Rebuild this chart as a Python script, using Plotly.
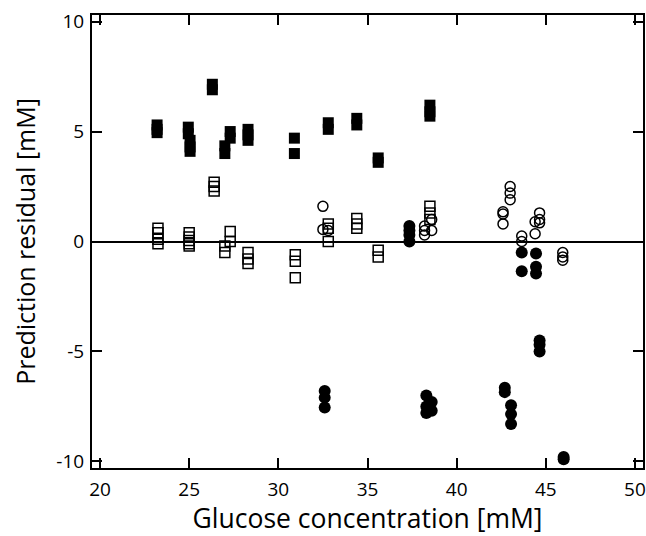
import plotly.graph_objects as go

# Filled squares
fsq_x = [23.2, 23.2, 23.2, 24.95, 24.95, 25.05, 25.05, 25.05, 26.3, 26.3, 27.0, 27.0,
         27.3, 27.3, 28.3, 28.3, 28.3, 30.9, 30.9, 32.8, 32.8, 34.4, 34.4, 35.6, 35.6,
         38.5, 38.5, 38.5]
fsq_y = [5.3, 5.1, 4.95, 5.2, 4.9, 4.6, 4.3, 4.1, 7.15, 6.9, 4.35, 4.0,
         5.0, 4.7, 5.1, 4.85, 4.6, 4.7, 4.0, 5.4, 5.1, 5.6, 5.3, 3.8, 3.6,
         6.2, 5.9, 5.7]

# Open squares
osq_x = [23.25, 23.25, 23.25, 23.25, 25.0, 25.0, 25.0, 25.0, 25.0, 26.4, 26.4, 26.4,
         27.0, 27.0, 27.3, 27.3, 28.3, 28.3, 28.3, 30.95, 30.95, 30.95, 32.8, 32.8, 32.8,
         34.4, 34.4, 34.4, 35.6, 35.6, 38.5, 38.5, 38.5]
osq_y = [0.6, 0.4, 0.1, -0.1, 0.4, 0.2, 0.05, -0.1, -0.2, 2.7, 2.5, 2.3,
         -0.2, -0.5, 0.45, 0.0, -0.5, -0.8, -1.0, -0.6, -0.9, -1.65, 0.8, 0.6, 0.0,
         1.05, 0.8, 0.6, -0.4, -0.7, 1.6, 1.3, 1.0]

# Open circles
oci_x = [32.5, 32.5, 32.8, 38.2, 38.2, 38.2, 38.6, 38.6, 42.6, 42.6, 42.6, 43.0, 43.0, 43.0,
         43.65, 43.65, 44.4, 44.4, 44.65, 44.65, 44.65, 45.95, 45.95, 45.95]
oci_y = [1.6, 0.55, 0.5, 0.7, 0.5, 0.3, 1.0, 0.5, 1.35, 1.25, 0.8, 2.5, 2.2, 1.9,
         0.25, 0.0, 0.9, 0.35, 1.3, 1.0, 0.85, -0.5, -0.7, -0.85]

# Filled circles
fci_x = [37.35, 37.35, 37.35, 37.35, 32.6, 32.6, 32.6, 38.3, 38.3, 38.3, 38.6, 38.6,
         42.7, 42.7, 43.05, 43.05, 43.05, 43.65, 43.65, 44.45, 44.45, 44.45,
         44.65, 44.65, 44.65, 46.0, 46.0]
fci_y = [0.7, 0.5, 0.3, 0.0, -6.8, -7.1, -7.55, -7.0, -7.5, -7.8, -7.3, -7.7,
         -6.65, -6.85, -7.45, -7.85, -8.3, -0.5, -1.35, -0.55, -1.15, -1.45,
         -4.5, -4.7, -5.0, -9.8, -9.9]

x_ticks = [20, 25, 30, 35, 40, 45, 50]
x_labels = ["20", "25", "30", "35", "40", "45", "50"]
y_ticks = [-10, -5, 0, 5, 10]
y_labels = ["-10", "-5", "0", "5", "10"]

FONT = "Open Sans"

fig = go.Figure()
fig.add_trace(go.Scatter(x=fsq_x, y=fsq_y, mode="markers",
                         marker=dict(symbol="square", size=11, color="black")))
fig.add_trace(go.Scatter(x=osq_x, y=osq_y, mode="markers",
                         marker=dict(symbol="square-open", size=10, color="black",
                                     line=dict(width=1.5, color="black"))))
fig.add_trace(go.Scatter(x=oci_x, y=oci_y, mode="markers",
                         marker=dict(symbol="circle-open", size=10, color="black",
                                     line=dict(width=1.5, color="black"))))
fig.add_trace(go.Scatter(x=fci_x, y=fci_y, mode="markers",
                         marker=dict(symbol="circle", size=12, color="black")))

axis_common = dict(showline=True, linecolor="black", linewidth=2, mirror="ticks",
                   ticks="inside", ticklen=10, tickwidth=2, tickcolor="black",
                   showgrid=False, automargin=False,
                   tickfont=dict(family=FONT, size=19, color="black"))

fig.update_xaxes(range=[19.55, 50.45], tickvals=x_ticks, ticktext=x_labels, zeroline=False,
                 title=dict(text="Glucose concentration [mM]",
                            font=dict(family=FONT, size=26.5, color="black"), standoff=5),
                 ticklabelstandoff=3, **axis_common)
fig.update_yaxes(range=[-10.3, 10.3], tickvals=y_ticks, ticktext=y_labels, zeroline=True,
                 zerolinecolor="black", zerolinewidth=2,
                 title=dict(text="Prediction residual [mM]",
                            font=dict(family=FONT, size=25, color="black"), standoff=14),
                 ticklabelstandoff=2, **axis_common)

fig.update_layout(width=646, height=536, showlegend=False,
                  paper_bgcolor="white", plot_bgcolor="white",
                  margin=dict(l=92, r=3, t=15, b=68))

fig.write_html("out.html", config={"displayModeBar": False},
               post_script="document.body.style.margin='0';")
